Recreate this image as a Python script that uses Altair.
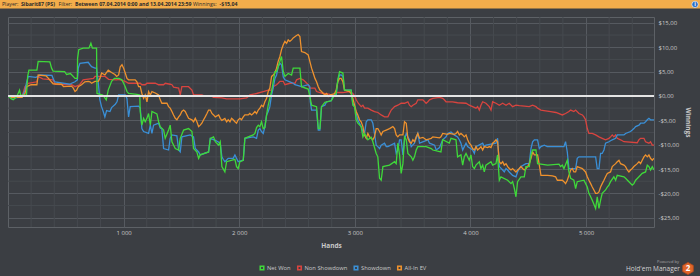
import altair as alt
import pandas as pd

FONT = "Open Sans"
BG = "#3b3e43"
GRID_MAJOR = "#565a60"
GRID_MINOR = "#464a4f"
LABEL = "#c9c9c9"

SERIES = ["Net Won", "Non Showdown", "Showdown", "All-In EV"]
SERIES_COLORS = ["#3fd83a", "#d8443f", "#3a8fd6", "#ee912d"]
DRAW_ORDER = ["Non Showdown", "Showdown", "All-In EV", "Net Won"]

X_LABEL_TICKS = [1000, 2000, 3000, 4000, 5000]
X_MINOR_TICKS = [200, 400, 600, 800, 1200, 1400, 1600, 1800, 2200, 2400, 2600, 2800,
                 3200, 3400, 3600, 3800, 4200, 4400, 4600, 4800, 5200, 5400]
Y_LABEL_TICKS = [-25, -20, -15, -10, -5, 0, 5, 10, 15]
Y_MINOR_TICKS = [-22.5, -17.5, -12.5, -7.5, -2.5, 2.5, 7.5, 12.5]

# (hands, winnings $)
net_won = [
    (0, 0.0), (30, -0.6), (45, -0.8), (75, -0.2), (100, 1.2), (110, 0.1), (160, 0.2), (170, 4.0),
    (181, 5.3), (250, 5.3), (261, 7.1), (362, 7.0), (377, 5.7), (390, 5.1), (490, 5.0), (507, 4.4),
    (540, 4.6), (580, 3.6), (600, 3.6), (602, 7.7), (612, 9.5), (650, 9.8), (700, 9.8), (717, 10.8),
    (730, 9.8), (766, 9.8), (770, 0.5), (820, 0.2), (850, -0.8), (867, 1.2), (896, 3.0), (920, 3.6),
    (960, 3.6), (985, 3.3), (1000, 2.6), (1014, 1.9), (1029, 0.9), (1043, 0.5), (1115, 0.3),
    (1140, 0.2), (1144, -3.2), (1158, -6.0), (1173, -4.6), (1187, -5.3), (1202, -4.6), (1216, -3.6),
    (1231, -6.0), (1245, -3.2), (1288, -3.7), (1303, -5.3), (1317, -6.3), (1346, -7.0), (1360, -8.7),
    (1389, -7.0), (1403, -6.0), (1418, -9.4), (1447, -10.8), (1476, -11.1), (1490, -8.7),
    (1519, -7.0), (1562, -6.7), (1591, -7.3), (1605, -10.8), (1634, -11.5), (1649, -12.8),
    (1663, -12.1), (1735, -11.5), (1750, -8.7), (1778, -8.4), (1793, -9.4), (1822, -10.1),
    (1836, -9.4), (1850, -14.5), (1876, -15.6), (1891, -13.5), (1963, -13.0), (1977, -14.5),
    (1991, -14.9), (2006, -13.5), (2035, -13.2), (2049, -8.7), (2121, -8.0), (2136, -7.7),
    (2150, -6.5), (2165, -6.0), (2179, -6.3), (2193, -5.3), (2208, -6.7), (2222, -6.5), (2237, -3.9),
    (2251, -1.9), (2265, -0.5), (2280, 0.9), (2294, 2.9), (2309, 5.0), (2323, 5.0), (2337, 6.0),
    (2352, 7.1), (2366, 8.1), (2381, 5.0), (2395, 4.0), (2424, 4.6), (2453, 4.3), (2467, 5.7),
    (2525, 5.7), (2539, 1.9), (2597, 1.4), (2611, -0.1), (2626, -1.9), (2669, -2.2), (2684, -6.7),
    (2698, -6.7), (2712, -2.2), (2741, -1.3), (2796, -1.0), (2825, 0.2), (2839, 0.5), (2853, 3.3),
    (2868, 5.0), (2897, 4.7), (2911, 1.2), (2968, 1.2), (2983, -1.9), (2998, -2.2), (3012, -4.9),
    (3026, -5.6), (3055, -6.3), (3070, -8.4), (3084, -7.7), (3113, -9.0), (3142, -8.5), (3156, -9.4),
    (3185, -11.8), (3199, -12.5), (3214, -16.9), (3228, -17.3), (3243, -14.5), (3300, -14.2),
    (3344, -13.5), (3358, -13.9), (3372, -9.7), (3387, -12.1), (3401, -15.9), (3416, -13.9),
    (3430, -8.4), (3445, -9.0), (3459, -11.8), (3488, -12.5), (3502, -13.2), (3516, -12.5),
    (3531, -11.1), (3545, -10.4), (3617, -10.4), (3661, -10.8), (3675, -11.1), (3745, -11.5),
    (3760, -9.0), (3817, -9.7), (3832, -8.7), (3875, -9.0), (3889, -12.5), (3918, -12.1),
    (3933, -14.2), (3947, -12.5), (3962, -11.8), (3990, -13.2), (4005, -12.1), (4019, -14.5),
    (4034, -14.9), (4048, -14.2), (4077, -13.5), (4091, -14.9), (4106, -14.2), (4120, -15.6),
    (4134, -14.2), (4178, -13.5), (4192, -14.2), (4221, -13.9), (4235, -12.1), (4250, -17.3),
    (4264, -16.6), (4322, -17.3), (4351, -18.0), (4365, -17.6), (4380, -19.0), (4394, -20.7),
    (4408, -17.6), (4437, -16.6), (4466, -16.6), (4480, -14.5), (4509, -14.5), (4524, -12.1),
    (4538, -11.1), (4567, -11.1), (4581, -13.9), (4668, -14.2), (4766, -14.0), (4780, -14.5),
    (4795, -14.2), (4809, -14.9), (4838, -13.2), (4852, -15.6), (4867, -16.9), (4895, -17.3),
    (4910, -19.0), (4924, -17.6), (4982, -17.3), (5011, -18.7), (5025, -20.0), (5040, -20.7),
    (5054, -21.4), (5083, -23.1), (5097, -20.7), (5112, -23.1), (5126, -21.4), (5140, -20.0),
    (5169, -19.3), (5184, -18.7), (5198, -18.3), (5212, -17.6), (5241, -16.6), (5256, -17.3),
    (5270, -16.3), (5328, -16.6), (5342, -16.9), (5371, -17.6), (5400, -18.3), (5414, -18.0),
    (5429, -17.3), (5458, -16.6), (5486, -15.9), (5515, -15.6), (5530, -14.2), (5544, -14.5),
    (5558, -15.2), (5573, -14.5), (5588, -15.2),
]

non_showdown = [
    (0, 0.0), (30, -0.3), (120, -0.3), (147, 1.9), (175, 2.6), (250, 2.9), (261, 4.0), (300, 3.5),
    (390, 3.3), (408, 2.4), (550, 2.3), (580, 1.9), (620, 2.3), (650, 3.3), (740, 3.6), (752, 4.0),
    (840, 4.0), (870, 3.4), (940, 3.3), (957, 3.4), (1014, 3.0), (1043, 2.6), (1144, 2.6),
    (1158, 2.3), (1187, 2.3), (1202, 2.6), (1274, 2.6), (1303, 2.3), (1346, 2.3), (1360, 2.6),
    (1403, 2.4), (1418, 2.3), (1432, 1.8), (1476, 1.6), (1490, 0.2), (1504, 1.9), (1562, 1.9),
    (1591, 1.2), (1605, 0.2), (1677, 0.2), (1706, -0.1), (1764, -0.1), (1778, -0.3), (1850, -0.4),
    (1890, -0.6), (2006, -0.6), (2064, -0.4), (2078, -0.1), (2092, 0.2), (2150, 0.5), (2208, 0.9),
    (2251, 1.2), (2280, 1.2), (2294, 1.9), (2323, 2.3), (2337, 2.6), (2352, 3.0), (2381, 3.0),
    (2395, 2.3), (2438, 2.6), (2482, 2.6), (2496, 3.3), (2525, 3.6), (2554, 3.3), (2597, 2.3),
    (2611, 1.6), (2655, 1.6), (2669, 0.9), (2712, 0.6), (2785, 0.3), (2825, 0.2), (2839, 0.7),
    (2897, 0.7), (2955, 0.9), (2983, 0.5), (3000, -0.1), (3012, -0.8), (3030, -1.5), (3055, -2.2),
    (3070, -1.9), (3084, -2.5), (3113, -2.5), (3142, -2.9), (3170, -3.2), (3200, -3.4),
    (3228, -3.9), (3257, -4.3), (3286, -4.3), (3300, -3.6), (3315, -2.9), (3344, -2.2),
    (3372, -1.9), (3401, -1.5), (3430, -1.5), (3459, -1.2), (3473, -1.9), (3488, -2.2),
    (3502, -1.9), (3531, -1.5), (3545, -0.8), (3589, -0.8), (3617, -1.5), (3632, -1.2),
    (3646, -0.8), (3675, -0.5), (3733, -0.3), (3760, -0.5), (3774, -0.8), (3789, -1.2),
    (3846, -1.2), (3889, -1.4), (3962, -1.5), (3990, -1.9), (4019, -2.2), (4048, -2.5),
    (4062, -2.2), (4077, -2.9), (4091, -1.9), (4106, -1.2), (4134, -1.5), (4163, -2.2),
    (4178, -2.9), (4192, -1.2), (4221, -1.5), (4250, -1.9), (4279, -1.5), (4308, -1.9),
    (4336, -1.5), (4365, -2.2), (4394, -1.9), (4423, -2.0), (4509, -2.2), (4538, -1.9),
    (4567, -2.2), (4581, -2.5), (4610, -2.9), (4636, -3.0), (4694, -3.2), (4740, -3.4),
    (4795, -3.9), (4823, -3.6), (4852, -3.2), (4867, -2.9), (4895, -3.2), (4910, -2.9),
    (4939, -3.6), (4968, -3.9), (4982, -4.3), (4996, -4.9), (5011, -6.7), (5025, -7.7),
    (5054, -7.7), (5083, -8.0), (5112, -8.4), (5140, -8.7), (5169, -9.0), (5198, -8.7),
    (5212, -8.4), (5227, -8.0), (5241, -8.4), (5256, -8.0), (5270, -8.7), (5299, -9.0),
    (5328, -9.4), (5443, -9.6), (5458, -9.0), (5472, -8.7), (5501, -8.7), (5515, -9.4),
    (5544, -9.7), (5558, -9.4), (5573, -10.1), (5588, -10.1),
]

showdown = [
    (0, 0.0), (30, -0.4), (120, -0.3), (147, 1.2), (162, 2.9), (175, 4.0), (240, 3.8), (261, 4.0),
    (275, 4.3), (380, 4.2), (395, 3.3), (406, 2.9), (535, 2.4), (550, 2.6), (580, 2.9), (600, 3.3),
    (608, 5.7), (622, 6.7), (694, 6.9), (709, 6.4), (723, 6.0), (752, 5.7), (766, 5.7), (780, 2.9),
    (795, -0.8), (809, -2.2), (824, -3.2), (838, -4.3), (853, -3.0), (882, -3.2), (896, -2.4),
    (928, -1.7), (943, -1.2), (957, 0.2), (1014, 0.2), (1029, -0.5), (1043, -4.3), (1057, -2.2),
    (1130, -2.1), (1144, -2.5), (1158, -6.7), (1173, -7.3), (1216, -7.7), (1231, -6.0),
    (1245, -7.7), (1259, -6.0), (1303, -5.6), (1317, -6.6), (1331, -6.7), (1346, -10.8),
    (1389, -11.1), (1403, -8.7), (1418, -8.0), (1461, -8.2), (1476, -11.1), (1490, -11.5),
    (1504, -8.4), (1576, -8.0), (1605, -8.4), (1620, -10.8), (1649, -11.5), (1663, -12.1),
    (1735, -11.5), (1750, -8.7), (1793, -9.1), (1836, -9.7), (1850, -12.5), (1862, -13.0),
    (1876, -13.5), (1905, -12.8), (1948, -12.8), (1963, -12.1), (1991, -13.5), (2035, -13.2),
    (2049, -8.7), (2121, -8.4), (2150, -8.7), (2165, -7.0), (2179, -6.7), (2193, -7.3),
    (2208, -7.7), (2222, -6.3), (2237, -3.9), (2251, -3.2), (2265, -2.2), (2280, 0.2), (2294, 1.6),
    (2309, 3.6), (2323, 4.3), (2337, 6.0), (2352, 6.7), (2366, 6.4), (2381, 3.9), (2395, 3.3),
    (2438, 2.9), (2467, 2.6), (2482, 2.3), (2539, 1.9), (2597, 2.3), (2611, 1.9), (2615, -1.2),
    (2626, -2.9), (2669, -2.9), (2684, -7.0), (2698, -7.0), (2712, -2.2), (2741, -1.9),
    (2756, -1.2), (2796, -1.0), (2810, -0.1), (2839, 0.2), (2853, 3.3), (2868, 4.3), (2882, 4.3),
    (2897, 4.0), (2911, 1.2), (2968, 1.2), (2983, -1.5), (2998, -2.2), (3012, -3.6), (3026, -4.9),
    (3055, -6.3), (3070, -7.3), (3084, -7.7), (3099, -5.3), (3113, -4.9), (3142, -4.9),
    (3156, -5.6), (3170, -7.7), (3185, -10.1), (3199, -10.4), (3214, -10.8), (3228, -10.1),
    (3257, -9.7), (3272, -10.4), (3286, -10.4), (3344, -9.7), (3358, -11.8), (3372, -11.1),
    (3387, -9.0), (3401, -9.0), (3416, -12.1), (3430, -9.0), (3445, -7.7), (3459, -8.4),
    (3473, -9.0), (3488, -10.4), (3516, -9.7), (3545, -7.7), (3560, -9.7), (3632, -9.0),
    (3646, -9.7), (3690, -10.1), (3704, -11.1), (3733, -10.6), (3760, -9.0), (3789, -8.4),
    (3803, -7.7), (3832, -7.4), (3860, -8.0), (3889, -8.4), (3904, -9.0), (3918, -9.7),
    (3933, -11.1), (3947, -10.4), (3962, -9.7), (3976, -10.4), (4019, -11.1), (4034, -11.8),
    (4048, -10.4), (4106, -9.7), (4120, -10.4), (4134, -10.1), (4221, -9.7), (4235, -8.7),
    (4250, -14.5), (4279, -15.2), (4293, -15.6), (4308, -14.9), (4322, -15.2), (4336, -15.6),
    (4365, -16.3), (4394, -16.6), (4408, -15.6), (4423, -14.9), (4437, -14.5), (4480, -13.9),
    (4509, -13.9), (4524, -10.8), (4538, -9.4), (4553, -9.0), (4581, -9.0), (4596, -10.8),
    (4610, -10.4), (4639, -10.1), (4665, -10.4), (4809, -10.4), (4823, -9.4), (4838, -11.5),
    (4852, -14.9), (4910, -14.9), (4924, -12.8), (4939, -12.5), (5083, -12.5), (5097, -14.9),
    (5112, -14.9), (5126, -11.8), (5140, -11.8), (5155, -11.1), (5169, -9.7), (5198, -9.4),
    (5227, -9.0), (5256, -8.7), (5270, -8.0), (5328, -8.0), (5342, -7.7), (5385, -7.3),
    (5400, -7.0), (5414, -6.7), (5429, -6.3), (5458, -6.0), (5472, -5.6), (5501, -5.6),
    (5515, -5.3), (5530, -4.9), (5544, -4.6), (5558, -4.9), (5588, -4.9),
]

all_in_ev = [
    (0, 0.0), (30, -0.3), (120, -0.3), (147, 0.5), (162, 1.9), (200, 2.3), (250, 2.3), (261, 4.3),
    (330, 4.1), (350, 3.6), (375, 2.9), (390, 2.5), (464, 2.4), (480, 1.9), (550, 2.0), (565, 1.6),
    (580, 0.9), (594, 1.2), (608, 1.9), (636, 2.3), (665, 2.9), (694, 3.0), (709, 2.9), (723, 2.6),
    (752, 3.0), (781, 3.0), (795, 3.6), (810, 4.7), (838, 4.3), (867, 5.3), (896, 4.8), (925, 4.4),
    (940, 4.0), (957, 4.3), (971, 6.0), (986, 6.4), (1000, 5.7), (1014, 4.7), (1029, 3.6),
    (1043, 3.3), (1100, 3.3), (1115, 2.9), (1130, 1.9), (1144, 1.9), (1158, 0.5), (1173, -0.5),
    (1187, 0.2), (1202, -1.2), (1216, 0.9), (1231, 0.2), (1245, 0.9), (1274, 0.6), (1303, 0.2),
    (1317, -0.8), (1331, -1.5), (1375, -1.5), (1389, -2.2), (1403, -2.5), (1418, -3.2),
    (1432, -3.9), (1447, -4.6), (1461, -4.9), (1476, -4.3), (1490, -3.9), (1504, -3.2),
    (1519, -2.9), (1533, -3.2), (1548, -3.9), (1562, -4.6), (1591, -4.9), (1605, -5.3),
    (1620, -4.6), (1634, -5.3), (1649, -6.3), (1663, -6.0), (1677, -5.6), (1692, -4.9),
    (1706, -4.3), (1721, -3.6), (1735, -2.9), (1750, -2.9), (1764, -3.6), (1778, -3.9),
    (1793, -4.3), (1822, -3.9), (1836, -4.6), (1850, -5.0), (1876, -4.6), (1891, -5.3),
    (1905, -4.9), (1920, -5.3), (1934, -4.6), (1948, -4.9), (1963, -5.3), (1977, -5.6),
    (1991, -4.9), (2006, -4.6), (2020, -4.9), (2035, -4.3), (2049, -3.9), (2078, -3.9),
    (2092, -3.6), (2107, -3.9), (2121, -3.6), (2136, -3.2), (2150, -3.6), (2165, -2.9),
    (2179, -2.5), (2193, -1.9), (2208, -2.2), (2222, -1.2), (2237, -0.5), (2251, 0.9), (2265, 1.6),
    (2280, 4.0), (2294, 4.3), (2309, 4.7), (2323, 5.7), (2337, 7.1), (2352, 8.1), (2366, 9.5),
    (2381, 10.5), (2395, 11.2), (2410, 10.8), (2424, 11.5), (2438, 11.2), (2453, 11.5),
    (2467, 11.9), (2496, 12.4), (2510, 12.6), (2525, 12.2), (2539, 9.1), (2568, 8.9), (2597, 8.4),
    (2611, 7.1), (2626, 5.7), (2640, 4.7), (2655, 3.6), (2669, 2.9), (2684, 1.9), (2698, 1.2),
    (2712, 0.9), (2727, 0.5), (2741, 0.2), (2756, 0.5), (2770, -0.1), (2785, 0.2), (2825, 0.5),
    (2839, 1.2), (2853, 2.9), (2868, 3.6), (2882, 3.6), (2897, 2.9), (2911, 1.2), (2954, 0.9),
    (2968, 0.5), (2983, -0.5), (2998, -1.9), (3012, -3.2), (3026, -3.9), (3041, -4.9),
    (3055, -5.3), (3070, -6.3), (3084, -8.0), (3099, -8.7), (3113, -7.7), (3127, -8.4),
    (3156, -9.0), (3170, -8.4), (3185, -6.7), (3199, -6.7), (3214, -7.3), (3228, -8.0),
    (3243, -7.3), (3272, -7.0), (3300, -6.7), (3329, -6.3), (3344, -6.7), (3358, -8.0),
    (3372, -8.4), (3387, -8.0), (3416, -8.0), (3430, -5.3), (3445, -5.6), (3459, -8.7),
    (3473, -9.4), (3488, -9.7), (3502, -9.0), (3516, -9.4), (3531, -8.4), (3545, -7.7),
    (3560, -8.7), (3589, -8.5), (3617, -9.0), (3661, -8.7), (3675, -8.4), (3733, -8.6),
    (3745, -8.4), (3760, -7.7), (3803, -7.9), (3817, -7.7), (3860, -7.9), (3875, -7.7),
    (3889, -7.3), (3904, -8.0), (3918, -7.7), (3933, -8.0), (3947, -8.4), (3962, -8.0),
    (3976, -9.0), (3990, -9.7), (4005, -10.1), (4019, -10.8), (4034, -11.1), (4048, -10.4),
    (4062, -11.1), (4077, -10.8), (4091, -10.4), (4106, -11.1), (4120, -10.4), (4149, -10.6),
    (4163, -10.4), (4178, -10.6), (4192, -9.7), (4207, -9.4), (4221, -9.0), (4235, -9.4),
    (4250, -13.5), (4264, -13.9), (4279, -13.5), (4293, -14.2), (4308, -13.9), (4322, -14.5),
    (4336, -14.9), (4351, -15.2), (4365, -14.9), (4394, -15.6), (4408, -15.2), (4423, -14.9),
    (4437, -14.5), (4451, -14.9), (4466, -15.2), (4480, -14.9), (4495, -14.5), (4509, -13.9),
    (4524, -12.8), (4538, -11.5), (4553, -12.1), (4581, -12.1), (4596, -14.2), (4610, -16.3),
    (4668, -16.3), (4710, -16.4), (4737, -16.6), (4752, -17.3), (4795, -17.3), (4809, -17.6),
    (4823, -18.0), (4838, -17.3), (4852, -16.3), (4867, -15.2), (4881, -14.9), (4895, -15.6),
    (4910, -15.6), (4924, -14.5), (4968, -14.9), (4996, -15.6), (5011, -16.6), (5025, -17.3),
    (5040, -18.0), (5054, -18.7), (5068, -19.3), (5083, -20.0), (5097, -20.0), (5112, -19.7),
    (5126, -18.7), (5140, -18.0), (5155, -17.3), (5169, -16.6), (5184, -15.9), (5212, -15.6),
    (5227, -14.5), (5241, -14.2), (5256, -13.9), (5270, -13.5), (5285, -13.2), (5299, -13.9),
    (5328, -14.2), (5342, -14.5), (5357, -15.2), (5371, -15.6), (5385, -15.2), (5400, -14.9),
    (5414, -14.5), (5429, -14.2), (5443, -13.9), (5458, -13.5), (5472, -13.9), (5486, -13.2),
    (5501, -12.5), (5515, -12.1), (5530, -12.5), (5544, -12.1), (5558, -12.8), (5573, -13.2),
    (5588, -12.8),
]

SERIES_POINTS = {"Net Won": net_won, "Non Showdown": non_showdown,
                 "Showdown": showdown, "All-In EV": all_in_ev}

frames = []
for name, pts in SERIES_POINTS.items():
    frames.append(pd.DataFrame({"series": name,
                                "hands": [p[0] for p in pts],
                                "winnings": [p[1] for p in pts]}))
df = pd.concat(frames, ignore_index=True)

xscale = alt.Scale(domain=[0, 5588], nice=False, zero=False)
yscale = alt.Scale(domain=[-26.9, 16.2], nice=False, zero=False)
cscale = alt.Scale(domain=SERIES, range=SERIES_COLORS)

x_axis = alt.Axis(
    values=X_LABEL_TICKS, title="Hands",
    labelExpr="replace(format(datum.value, ','), ',', ' ')",
    grid=True, gridColor=GRID_MAJOR, gridWidth=1, ticks=False, domain=False,
    labelFont=FONT, labelFontSize=6, labelColor=LABEL, labelPadding=2,
    titleFont=FONT, titleFontSize=6.5, titleFontWeight="bold", titleColor=LABEL, titlePadding=7,
)
y_axis = alt.Axis(
    orient="right", values=Y_LABEL_TICKS, title="Winnings",
    labelExpr="(datum.value < 0 ? '-' : '') + '$' + replace(format(abs(datum.value), '.2f'), '.', ',')",
    grid=True, gridColor=GRID_MAJOR, gridWidth=1, ticks=False, domain=False,
    labelFont=FONT, labelFontSize=6, labelColor=LABEL, labelPadding=4, labelAlign="left",
    titleFont=FONT, titleFontSize=6.5, titleFontWeight="bold", titleColor=LABEL,
    titleAngle=90, titlePadding=6,
)
legend = alt.Legend(
    orient="none", legendX=251, legendY=248, direction="horizontal", title=None,
    symbolType="square", symbolSize=12, symbolStrokeWidth=1.6,
    labelFont=FONT, labelFontSize=5.8, labelColor=LABEL, labelOffset=2, columnPadding=3.5,
    gridAlign="none",
)

X = alt.X("hands:Q", scale=xscale, axis=x_axis)
Y = alt.Y("winnings:Q", scale=yscale, axis=y_axis)

minor_x = alt.Chart(pd.DataFrame({"hands": X_MINOR_TICKS})).mark_rule(
    color=GRID_MINOR, strokeWidth=1).encode(x=X)
minor_y = alt.Chart(pd.DataFrame({"winnings": Y_MINOR_TICKS})).mark_rule(
    color=GRID_MINOR, strokeWidth=1).encode(y=Y)

line_layers = []
for name in DRAW_ORDER:
    line_layers.append(
        alt.Chart(df).transform_filter(alt.datum.series == name).mark_line(
            strokeWidth=1.3, interpolate="linear", clip=True
        ).encode(x=X, y=Y, color=alt.Color("series:N", scale=cscale, legend=legend))
    )

zero_rule = alt.Chart(pd.DataFrame({"winnings": [0]})).mark_rule(
    color="#e4e4e4", strokeWidth=2).encode(y=Y)

one = pd.DataFrame({"k": [0]})


def deco_text(s, x, y, size, weight="normal", color="#2a2a2a", align="left"):
    return alt.Chart(one).mark_text(
        text=s, fontSize=size, fontWeight=weight, color=color, align=align,
        baseline="middle", font=FONT
    ).encode(x=alt.value(x), y=alt.value(y))


HY = -12.6
HS = 5.2
header_bar = alt.Chart(one).mark_rect(color="#f3ad4b").encode(
    x=alt.value(-8), x2=alt.value(692), y=alt.value(-17), y2=alt.value(-8.5))
header = [
    header_bar,
    deco_text("Player:", -6, HY, HS),
    deco_text("Sibarit87 (PS)", 13, HY, HS, "bold"),
    deco_text("Filter:", 50.5, HY, HS),
    deco_text("Between 07.04.2014 0:00 and 13.04.2014 23:59", 67, HY, HS, "bold"),
    deco_text("Winnings:", 185, HY, HS),
    deco_text("-$15,04", 211.5, HY, HS, "bold"),
    alt.Chart(one).mark_point(filled=True, shape="circle", size=40, color="#2c6fc4", opacity=1,
                              stroke="#ffffff", strokeWidth=0.6).encode(
        x=alt.value(687), y=alt.value(HY)),
    deco_text("i", 687, HY, 5.5, "bold", "#ffffff", "center"),
]

HEX = "M0,-1L0.866,-0.5L0.866,0.5L0,1L-0.866,0.5L-0.866,-0.5Z"
logo = [
    deco_text("Powered by", 671, 245, 4, "normal", "#a9a9a9", "right"),
    deco_text("Hold'em Manager", 672, 252, 6.5, "normal", "#d2d2d2", "right"),
    alt.Chart(one).mark_point(filled=True, shape=HEX, size=150, color="#e0662a", opacity=1,
                              stroke="#b54a1c", strokeWidth=0.8).encode(
        x=alt.value(680), y=alt.value(251.5)),
    deco_text("2", 680, 251.8, 8, "bold", "#ffffff", "center"),
]

chart = alt.layer(
    minor_x, minor_y, *line_layers, zero_rule, *header, *logo
).properties(
    width=646, height=210,
    autosize=alt.AutoSizeParams(type="none"),
    padding={"left": 8, "top": 17, "right": 46, "bottom": 49},
    background=BG,
).configure_view(
    stroke="#5d6166", strokeWidth=1
)

chart.save("out.html", embed_options={"renderer": "svg", "actions": False})
